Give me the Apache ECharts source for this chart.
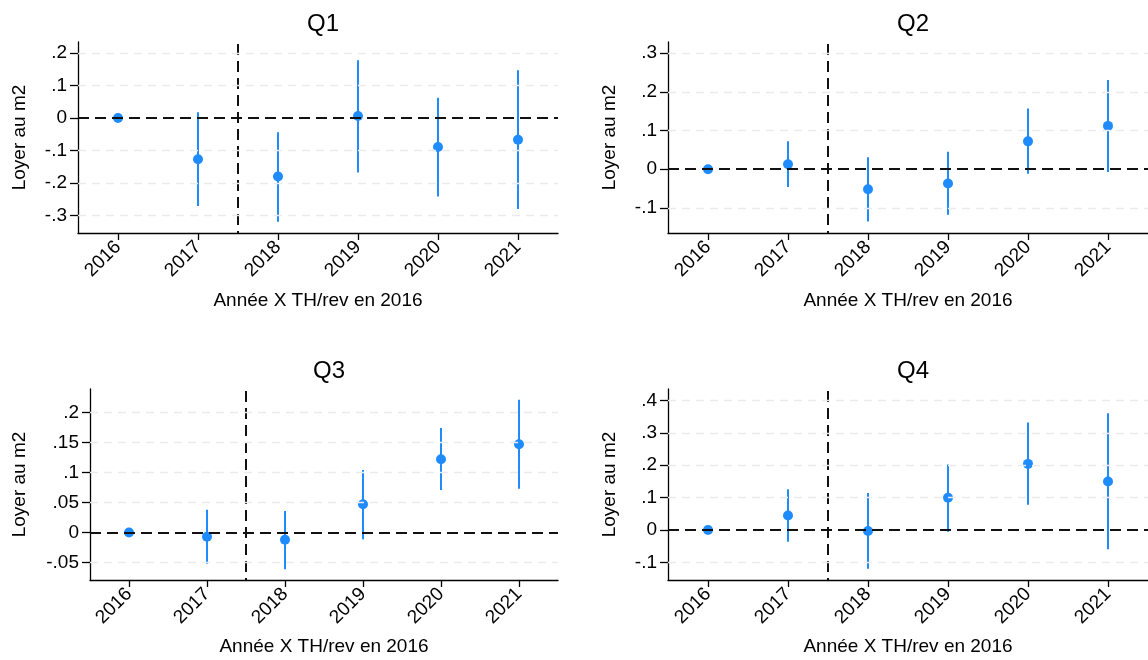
<!DOCTYPE html>
<html>
<head>
<meta charset="utf-8">
<script src="https://cdn.jsdelivr.net/npm/echarts@6/dist/echarts.min.js"></script>
<style>
html,body{margin:0;padding:0;background:#fff;}
#chart{width:1148px;height:660px;}
</style>
</head>
<body>
<div id="chart"></div>
<script>
const years = ['2016','2017','2018','2019','2020','2021'];
// vertical reference line drawn between these two categories
const cutBetween = ['2017', '2018'];

const q1Est = [0, -0.127, -0.180, 0.006, -0.089, -0.067];
const q1Lo  = [0, -0.271, -0.319, -0.168, -0.242, -0.280];
const q1Hi  = [0, 0.018, -0.044, 0.178, 0.062, 0.147];
const q1Ticks = [-0.3, -0.2, -0.1, 0, 0.1, 0.2];
const q1TickLabels = ['-.3', '-.2', '-.1', '0', '.1', '.2'];

const q2Est = [0, 0.013, -0.052, -0.037, 0.072, 0.112];
const q2Lo  = [0, -0.046, -0.135, -0.118, -0.012, -0.007];
const q2Hi  = [0, 0.072, 0.031, 0.045, 0.157, 0.231];
const q2Ticks = [-0.1, 0, 0.1, 0.2, 0.3];
const q2TickLabels = ['-.1', '0', '.1', '.2', '.3'];

const q3Est = [0, -0.007, -0.012, 0.047, 0.122, 0.147];
const q3Lo  = [0, -0.052, -0.061, -0.011, 0.071, 0.073];
const q3Hi  = [0, 0.038, 0.036, 0.104, 0.174, 0.221];
const q3Ticks = [-0.05, 0, 0.05, 0.1, 0.15, 0.2];
const q3TickLabels = ['-.05', '0', '.05', '.1', '.15', '.2'];

const q4Est = [0, 0.045, -0.003, 0.0995, 0.204, 0.150];
const q4Lo  = [0, -0.036, -0.119, -0.005, 0.078, -0.059];
const q4Hi  = [0, 0.126, 0.114, 0.202, 0.332, 0.360];
const q4Ticks = [-0.1, 0, 0.1, 0.2, 0.3, 0.4];
const q4TickLabels = ['-.1', '0', '.1', '.2', '.3', '.4'];

const titles = ['Q1', 'Q2', 'Q3', 'Q4'];
const xName = 'Année X TH/rev en 2016';
const yName = 'Loyer au m2';

const panels = [
  {est: q1Est, lo: q1Lo, hi: q1Hi, ticks: q1Ticks, labels: q1TickLabels, min: -0.354, max: 0.234, grid: {left: 78, top: 42, width: 480, height: 191}, yGap: 49, xGap: 58, titleTop: 7},
  {est: q2Est, lo: q2Lo, hi: q2Hi, ticks: q2Ticks, labels: q2TickLabels, min: -0.165, max: 0.329, grid: {left: 668, top: 42, width: 480, height: 191}, yGap: 49, xGap: 58, titleTop: 7},
  {est: q3Est, lo: q3Lo, hi: q3Hi, ticks: q3Ticks, labels: q3TickLabels, min: -0.079, max: 0.239, grid: {left: 90, top: 389, width: 468, height: 191}, yGap: 61, xGap: 57, titleTop: 354},
  {est: q4Est, lo: q4Lo, hi: q4Hi, ticks: q4Ticks, labels: q4TickLabels, min: -0.154, max: 0.435, grid: {left: 668, top: 389, width: 480, height: 191}, yGap: 49, xGap: 57, titleTop: 354}
];

const FONT = '"Liberation Sans", Arial, sans-serif';
const BLUE = '#1e8cff';

const option = {
  animation: false,
  backgroundColor: '#ffffff',
  title: [], grid: [], xAxis: [], yAxis: [], series: []
};

const cutIdx = [years.indexOf(cutBetween[0]), years.indexOf(cutBetween[1])];

panels.forEach((p, i) => {
  option.title.push({
    text: titles[i],
    left: p.grid.left + p.grid.width / 2,
    top: p.titleTop,
    textAlign: 'center',
    textStyle: {fontFamily: FONT, fontSize: 24, fontWeight: 'normal', color: '#000'}
  });
  option.grid.push(Object.assign({containLabel: false}, p.grid));
  option.xAxis.push({
    type: 'category', gridIndex: i, data: years, boundaryGap: true,
    name: xName, nameLocation: 'middle', nameGap: p.xGap,
    nameTextStyle: {fontFamily: FONT, fontSize: 19, color: '#000'},
    axisLine: {show: true, onZero: false, lineStyle: {color: '#000', width: 1.3}},
    axisTick: {show: true, alignWithLabel: true, length: 7, lineStyle: {color: '#000', width: 1.3}},
    axisLabel: {rotate: 45, margin: 11, fontFamily: FONT, fontSize: 19, color: '#000', interval: 0},
    splitLine: {show: false}
  });
  const labelMap = {};
  p.ticks.forEach((t, k) => { labelMap[t.toFixed(3)] = p.labels[k]; });
  option.yAxis.push({
    type: 'value', gridIndex: i, min: p.min, max: p.max,
    name: yName, nameLocation: 'middle', nameGap: p.yGap,
    nameTextStyle: {fontFamily: FONT, fontSize: 19, color: '#000'},
    axisLine: {show: true, onZero: false, lineStyle: {color: '#000', width: 1.3}},
    axisTick: {show: true, length: 8, customValues: p.ticks, lineStyle: {color: '#000', width: 1.3}},
    axisLabel: {customValues: p.ticks, margin: 11, fontFamily: FONT, fontSize: 19, color: '#000',
      formatter: v => labelMap[Number(v).toFixed(3)] ?? ''},
    splitLine: {show: false}
  });
  // gridlines + zero line (markLine)
  option.series.push({
    type: 'line', xAxisIndex: i, yAxisIndex: i, data: [], silent: true, z: 1,
    markLine: {
      silent: true, symbol: 'none', label: {show: false}, animation: false,
      lineStyle: {color: '#ebebeb', type: [8, 6], width: 1.3},
      data: p.ticks.filter(t => t !== 0).map(t => ({yAxis: t}))
    }
  });
  option.series.push({
    type: 'line', xAxisIndex: i, yAxisIndex: i, data: [], silent: true, z: 2,
    markLine: {
      silent: true, symbol: 'none', label: {show: false}, animation: false,
      lineStyle: {color: '#111', type: [11, 6], width: 2},
      data: [{yAxis: 0}]
    }
  });
  // vertical dashed line between two categories
  option.series.push({
    type: 'custom', xAxisIndex: i, yAxisIndex: i, z: 2, silent: true,
    data: [[cutIdx[0], 0]],
    renderItem: (params, api) => {
      const a = api.coord([cutIdx[0], 0]);
      const b = api.coord([cutIdx[1], 0]);
      const x = (a[0] + b[0]) / 2;
      const cs = params.coordSys;
      return {type: 'line', shape: {x1: x, y1: cs.y + 2, x2: x, y2: cs.y + cs.height},
        style: {stroke: '#111', lineWidth: 2, lineDash: [11, 6]}};
    }
  });
  // error bars
  option.series.push({
    type: 'custom', xAxisIndex: i, yAxisIndex: i, z: 3,
    data: years.map((y, k) => [k, p.lo[k], p.hi[k]]),
    renderItem: (params, api) => {
      const a = api.coord([api.value(0), api.value(1)]);
      const b = api.coord([api.value(0), api.value(2)]);
      return {type: 'line', shape: {x1: a[0], y1: a[1], x2: b[0], y2: b[1]},
        style: {stroke: BLUE, lineWidth: 2}};
    }
  });
  option.series.push({
    type: 'scatter', xAxisIndex: i, yAxisIndex: i, z: 4,
    symbol: 'circle', symbolSize: 10,
    itemStyle: {color: BLUE, opacity: 1},
    data: years.map((y, k) => [k, p.est[k]])
  });
});

const chart = echarts.init(document.getElementById('chart'), null, {renderer: 'canvas'});
chart.setOption(option);
</script>
</body>
</html>
